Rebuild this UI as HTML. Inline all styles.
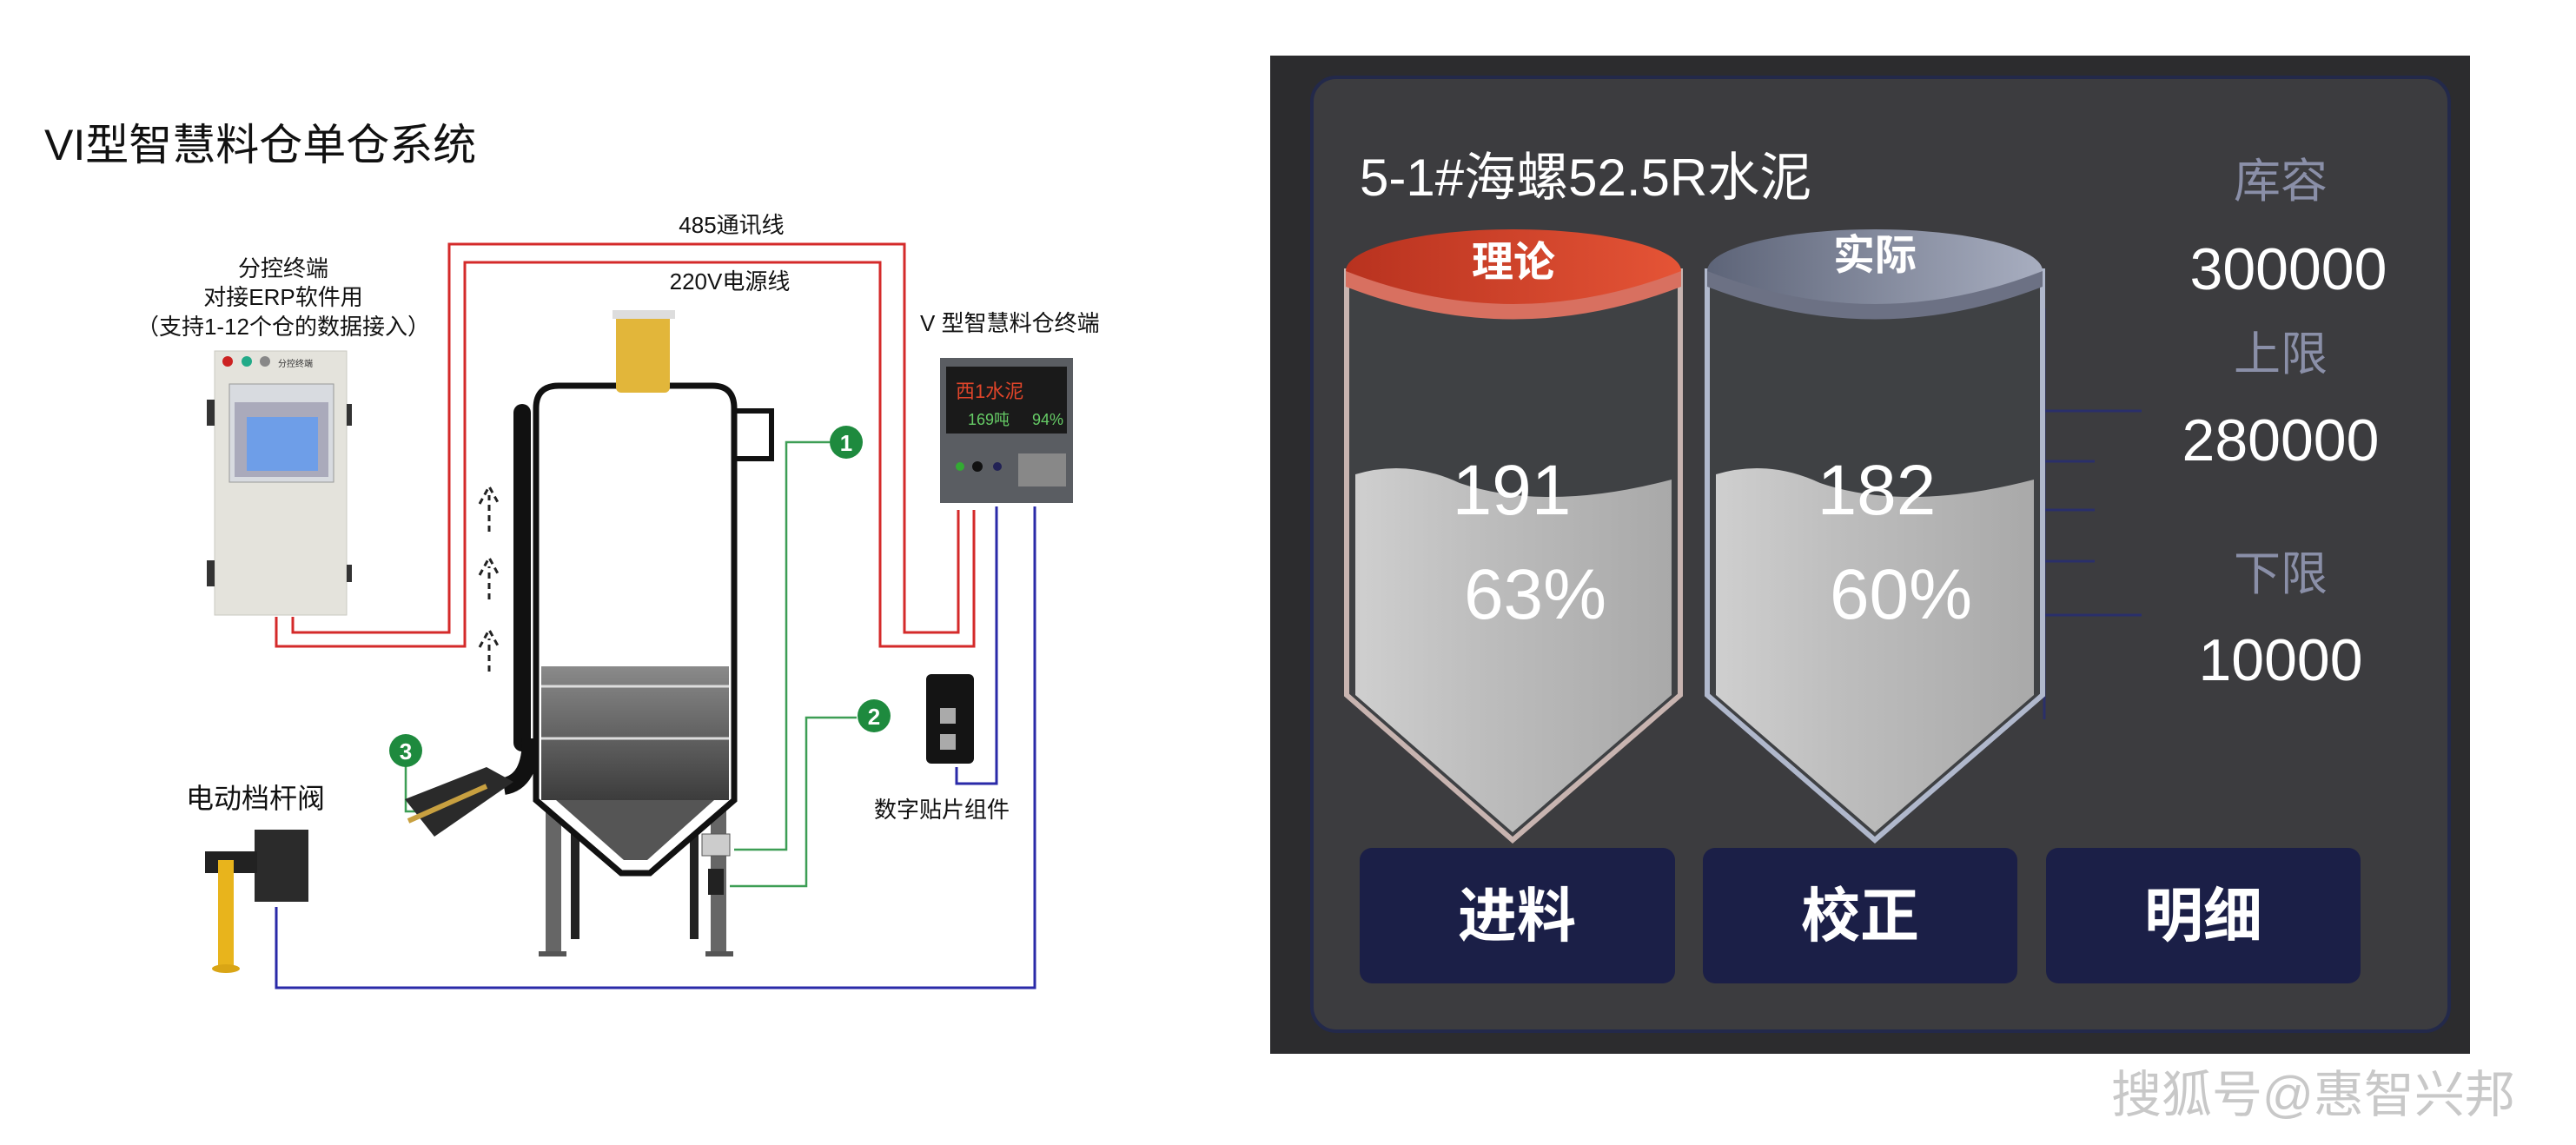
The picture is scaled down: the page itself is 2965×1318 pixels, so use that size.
<!DOCTYPE html>
<html><head><meta charset="utf-8"><style>
html,body{margin:0;padding:0;background:#fff;}
svg{display:block;}
text{font-family:"Liberation Sans","Noto Sans CJK SC",sans-serif;}
</style></head><body>
<svg width="2965" height="1318" viewBox="0 0 2965 1318" xmlns="http://www.w3.org/2000/svg">
<defs>
<linearGradient id="fill" x1="0" y1="0" x2="1" y2="0">
<stop offset="0" stop-color="#cfcfcf"/><stop offset="0.4" stop-color="#bdbdbd"/><stop offset="1" stop-color="#a9a9a9"/></linearGradient>
<linearGradient id="red" x1="0" y1="0" x2="1" y2="0">
<stop offset="0" stop-color="#b8321f"/><stop offset="1" stop-color="#e55436"/></linearGradient>
<linearGradient id="blue" x1="0" y1="0" x2="1" y2="0">
<stop offset="0" stop-color="#5d6478"/><stop offset="1" stop-color="#a8aec0"/></linearGradient>
<linearGradient id="band" x1="0" y1="0" x2="0" y2="1">
<stop offset="0" stop-color="#8a8a8a"/><stop offset="1" stop-color="#3c3c3c"/></linearGradient>
</defs>

<!-- LEFT DIAGRAM -->
<text x="51" y="184" font-size="50" fill="#111">VI型智慧料仓单仓系统</text>

<!-- red wires -->
<polyline points="337,710 337,728 517,728 517,281 1041,281 1041,728 1103,728 1103,587" fill="none" stroke="#d42a2a" stroke-width="3"/>
<polyline points="318,710 318,744 535,744 535,302 1013,302 1013,744 1121,744 1121,587" fill="none" stroke="#d42a2a" stroke-width="3"/>
<text x="842" y="268" font-size="26" fill="#111" text-anchor="middle">485通讯线</text>
<text x="840" y="333" font-size="26" fill="#111" text-anchor="middle">220V电源线</text>

<!-- blue wires -->
<polyline points="1147,583 1147,902 1101,902 1101,883" fill="none" stroke="#2a2aa8" stroke-width="3"/>
<polyline points="1191,583 1191,1137 318,1137 318,1044" fill="none" stroke="#2a2aa8" stroke-width="3"/>

<!-- green wires -->
<polyline points="955,509 905,509 905,978 845,978" fill="none" stroke="#3d9e55" stroke-width="2.5"/>
<polyline points="986,826 928,826 928,1020 840,1020" fill="none" stroke="#3d9e55" stroke-width="2.5"/>
<polyline points="467,882 467,934 489,934" fill="none" stroke="#3d9e55" stroke-width="2.5"/>
<circle cx="974" cy="509" r="19" fill="#1e8a3e"/><text x="974" y="519" font-size="26" font-weight="bold" fill="#fff" text-anchor="middle">1</text>
<circle cx="1006" cy="824" r="19" fill="#1e8a3e"/><text x="1006" y="834" font-size="26" font-weight="bold" fill="#fff" text-anchor="middle">2</text>
<circle cx="467" cy="864" r="19" fill="#1e8a3e"/><text x="467" y="874" font-size="26" font-weight="bold" fill="#fff" text-anchor="middle">3</text>

<!-- cabinet labels -->
<text x="326" y="318" font-size="26" fill="#111" text-anchor="middle">分控终端</text>
<text x="326" y="351" font-size="26" fill="#111" text-anchor="middle">对接ERP软件用</text>
<text x="326" y="385" font-size="26" fill="#111" text-anchor="middle">（支持1-12个仓的数据接入）</text>
<!-- cabinet -->
<rect x="247" y="404" width="152" height="304" fill="#e4e3dc" stroke="#c9c8c0"/>
<rect x="238" y="460" width="9" height="30" fill="#333"/><rect x="238" y="645" width="9" height="30" fill="#333"/>
<rect x="399" y="465" width="6" height="25" fill="#333"/><rect x="399" y="650" width="6" height="20" fill="#333"/>
<circle cx="262" cy="416" r="6" fill="#c22"/><circle cx="284" cy="416" r="6" fill="#2a8"/><circle cx="305" cy="416" r="6" fill="#888"/>
<text x="320" y="422" font-size="10" fill="#333">分控终端</text>
<rect x="264" y="442" width="120" height="113" fill="#d8dbe0" stroke="#999"/>
<rect x="270" y="463" width="108" height="86" fill="#aab" />
<rect x="284" y="480" width="82" height="62" fill="#6e9ee8"/>

<!-- terminal device -->
<text x="1059" y="381" font-size="26" fill="#111">V 型智慧料仓终端</text>
<rect x="1082" y="412" width="153" height="167" fill="#5a5d62"/>
<rect x="1089" y="422" width="139" height="77" fill="#1a1a1a"/>
<text x="1100" y="458" font-size="22" fill="#e2452a">西1水泥</text>
<text x="1114" y="489" font-size="18" fill="#6c6">169吨</text>
<text x="1188" y="489" font-size="18" fill="#6c6">94%</text>
<circle cx="1105" cy="537" r="5" fill="#3a3"/><circle cx="1125" cy="537" r="6" fill="#111"/><circle cx="1148" cy="537" r="5" fill="#225"/>
<rect x="1172" y="522" width="55" height="38" fill="#888"/>

<!-- digital patch -->
<rect x="1066" y="776" width="55" height="103" rx="6" fill="#141414"/>
<rect x="1082" y="815" width="18" height="18" fill="#aaa"/><rect x="1082" y="845" width="18" height="18" fill="#aaa"/>
<text x="1084" y="941" font-size="26" fill="#111" text-anchor="middle">数字贴片组件</text>

<!-- silo -->
<rect x="591" y="465" width="20" height="400" rx="10" fill="#111"/>
<path d="M611,850 Q611,900 580,905" fill="none" stroke="#111" stroke-width="20"/>
<path d="M466,920 L560,883 L591,900 L500,963 Z" fill="#2a2a2a"/>
<line x1="470" y1="945" x2="560" y2="905" stroke="#c8a040" stroke-width="6"/>
<rect x="628" y="921" width="18" height="178" fill="#666"/>
<rect x="818" y="921" width="18" height="178" fill="#666"/>
<rect x="657" y="921" width="10" height="160" fill="#222"/>
<rect x="794" y="921" width="10" height="160" fill="#222"/>
<rect x="620" y="1095" width="32" height="6" fill="#555"/><rect x="812" y="1095" width="32" height="6" fill="#555"/>
<path d="M617,921 L617,470 Q617,444 643,444 L820,444 Q845,444 845,470 L845,921 L748,1005 L715,1005 Z" fill="#fff" stroke="#111" stroke-width="7"/>
<rect x="623" y="767" width="216" height="154" fill="url(#band)"/>
<line x1="623" y1="790" x2="839" y2="790" stroke="#ddd" stroke-width="3"/>
<line x1="623" y1="850" x2="839" y2="850" stroke="#ddd" stroke-width="3"/>
<path d="M623,921 L839,921 L748,999 L715,999 Z" fill="#fff"/>
<path d="M640,921 L822,921 L745,990 L718,990 Z" fill="#555"/>
<path d="M845,473 L888,473 L888,528 L845,528" fill="none" stroke="#111" stroke-width="6"/>
<rect x="709" y="357" width="62" height="95" rx="6" fill="#e2b63a"/>
<rect x="705" y="357" width="72" height="10" fill="#ddd"/>
<rect x="808" y="960" width="32" height="25" fill="#ccc" stroke="#555"/>
<rect x="815" y="1000" width="18" height="30" fill="#222"/>
<!-- dashed arrows -->
<g stroke="#222" stroke-width="3" fill="none" stroke-dasharray="7,5">
<path d="M563,612 L563,570 M552,580 L563,560 L574,580"/>
<path d="M563,690 L563,652 M552,662 L563,642 L574,662"/>
<path d="M563,773 L563,735 M552,745 L563,725 L574,745"/>
</g>

<!-- gate valve -->
<text x="214" y="930" font-size="32" fill="#111">电动档杆阀</text>
<rect x="293" y="955" width="62" height="83" fill="#2b2b2b"/>
<rect x="236" y="980" width="60" height="25" fill="#222"/>
<rect x="251" y="990" width="18" height="125" fill="#e8b41c"/>
<ellipse cx="260" cy="1115" rx="16" ry="5" fill="#d9a515"/>

<!-- RIGHT PANEL -->
<rect x="1462" y="64" width="1381" height="1149" fill="#2c2c2e"/>
<rect x="1510" y="89" width="1309" height="1098" rx="28" fill="#3c3c3f" stroke="#23294a" stroke-width="4"/>
<text x="1565" y="225" font-size="60" fill="#fff">5-1#海螺52.5R水泥</text>
<g font-size="54" fill="#8a8fa8" text-anchor="middle">
<text x="2625" y="227">库容</text><text x="2625" y="426">上限</text><text x="2625" y="679">下限</text></g>
<g font-size="68" fill="#fff" text-anchor="middle">
<text x="2634" y="333">300000</text><text x="2625" y="530">280000</text><text x="2625" y="783">10000</text></g>
<!-- scale -->
<g stroke="#2a2f6a" stroke-width="3">
<line x1="2353" y1="355" x2="2353" y2="828"/>
<line x1="2353" y1="473" x2="2465" y2="473"/><line x1="2353" y1="531" x2="2411" y2="531"/>
<line x1="2353" y1="587" x2="2411" y2="587"/><line x1="2353" y1="646" x2="2411" y2="646"/>
<line x1="2353" y1="708" x2="2465" y2="708"/></g>

<!-- tank 1 -->
<path d="M1550,312 L1550,800 L1741,967 L1934,800 L1934,312 Z" fill="#3f4144" stroke="#c8b4b0" stroke-width="6"/>
<path d="M1560,546 Q1620,528 1680,556 Q1780,590 1924,552 L1924,800 L1741,958 L1560,800 Z" fill="url(#fill)"/>
<ellipse cx="1742" cy="312" rx="193" ry="48" fill="url(#red)"/>
<path d="M1549,312 Q1742,388 1935,312 L1935,330 Q1742,405 1549,330 Z" fill="#d87060"/>
<text x="1742" y="318" font-size="48" font-weight="bold" fill="#fff" text-anchor="middle">理论</text>
<text x="1740" y="592" font-size="82" fill="#fff" text-anchor="middle">191</text>
<text x="1767" y="712" font-size="82" fill="#fff" text-anchor="middle">63%</text>

<!-- tank 2 -->
<path d="M1965,312 L1965,800 L2158,967 L2351,800 L2351,312 Z" fill="#3f4144" stroke="#b0b8cc" stroke-width="6"/>
<path d="M1975,546 Q2035,528 2095,556 Q2195,590 2341,552 L2341,800 L2158,958 L1975,800 Z" fill="url(#fill)"/>
<ellipse cx="2158" cy="312" rx="193" ry="48" fill="url(#blue)"/>
<path d="M1965,312 Q2158,388 2351,312 L2351,330 Q2158,405 1965,330 Z" fill="#6c7184"/>
<text x="2158" y="310" font-size="48" font-weight="bold" fill="#fff" text-anchor="middle">实际</text>
<text x="2160" y="592" font-size="82" fill="#fff" text-anchor="middle">182</text>
<text x="2188" y="712" font-size="82" fill="#fff" text-anchor="middle">60%</text>

<!-- buttons -->
<rect x="1565" y="976" width="363" height="156" rx="14" fill="#1b1f47"/>
<rect x="1960" y="976" width="362" height="156" rx="14" fill="#1b1f47"/>
<rect x="2355" y="976" width="362" height="156" rx="14" fill="#1b1f47"/>
<g font-size="68" font-weight="bold" fill="#fff" text-anchor="middle">
<text x="1746" y="1078">进料</text><text x="2141" y="1078">校正</text><text x="2536" y="1078">明细</text></g>

<text x="2430" y="1280" font-size="58" fill="#c8c8c8">搜狐号@惠智兴邦</text>
</svg>
</body></html>
